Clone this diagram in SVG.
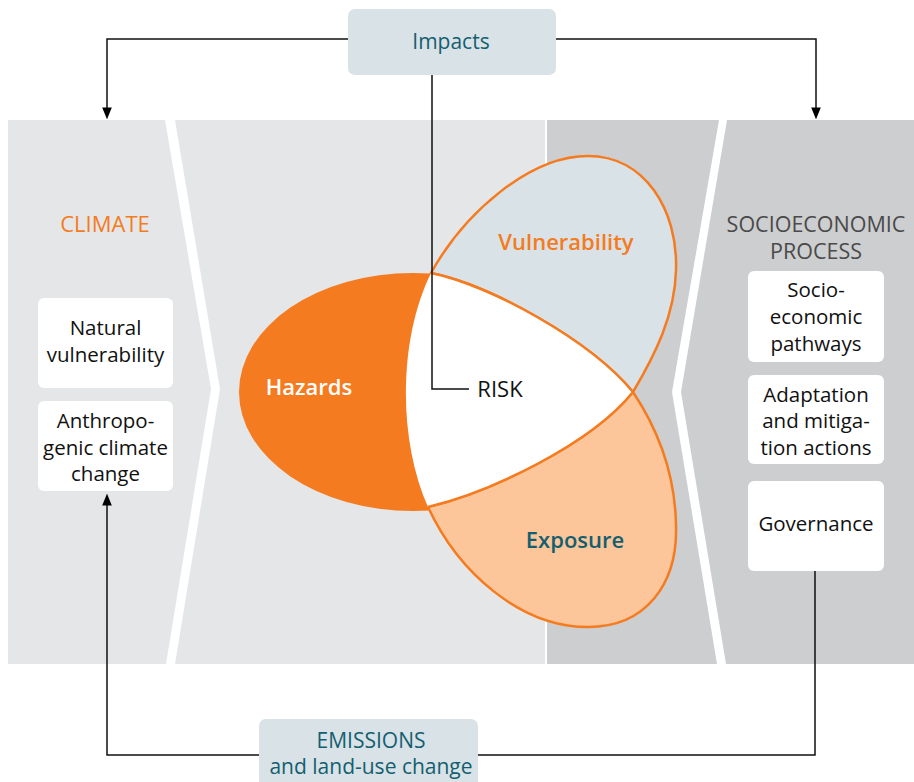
<svg xmlns="http://www.w3.org/2000/svg" width="914" height="782" viewBox="0 0 914 782">
<defs>
<style>
text{font-family:"Open Sans","Noto Sans","Liberation Sans",sans-serif;text-anchor:middle}
.body{font-size:20.5px;fill:#111}
.teal{fill:#135f6f}
.orange{fill:#f47b20}
.box{fill:#ffffff}
.tag{fill:#d9e2e7}
.conn{fill:none;stroke:#111;stroke-width:1.5}
.petal{stroke:#f47b20;stroke-width:2.5}
.lbl{font-size:22px;font-weight:600}
</style>
<marker id="ah" markerWidth="12" markerHeight="15" refX="12" refY="6" orient="auto" markerUnits="userSpaceOnUse" viewBox="0 0 15 12">
<path d="M0,0 L15,6 L0,12 Z" fill="#000"/>
</marker>
</defs>

<g id="background">
<rect x="8" y="120" width="538" height="544" fill="#e5e6e8"/>
<rect x="546" y="120" width="368" height="544" fill="#cdcecf"/>
<rect x="545" y="120" width="2" height="544" fill="#ffffff"/>
<polygon points="165,120 175,120 220,389 175,664 166,664 211,389" fill="#ffffff"/>
<polygon points="719,120 727,120 681,392 726,664 717,664 672,392" fill="#ffffff"/>
</g>

<g id="venn">
<ellipse id="hazards-shape" cx="413" cy="392" rx="174" ry="119" fill="#f47b20"/>
<path id="vulnerability-shape" class="petal" fill="#d9e2e7" d="M431,273 C465,212 530,156 588,156 C645,156 678,210 676,270 C675,315 655,355 633,392 C590,340 490,285 431,273 Z"/>
<path id="exposure-shape" class="petal" fill="#fdc59a" d="M428,507 C458,572 520,627 588,627 C645,627 678,585 676,525 C675,470 655,425 633,392 C590,445 490,492 428,507 Z"/>
<path id="risk-shape" fill="#ffffff" d="M431,273 C490,285 590,340 633,392 C590,445 490,492 428,507 C398,440 398,340 431,273 Z"/>
<path class="petal" fill="none" d="M431,273 C490,285 590,340 633,392 C590,445 490,492 428,507"/>
</g>

<g id="connectors">
<polyline class="conn" points="348,39 107,39 107,117" marker-end="url(#ah)"/>
<polyline class="conn" points="556,39 816,39 816,117" marker-end="url(#ah)"/>
<polyline class="conn" points="432,75 432,389 469,389"/>
<polyline class="conn" points="815,571 815,755 107,755 107,496" marker-end="url(#ah)"/>
</g>

<g id="impacts">
<rect class="tag" x="348" y="9" width="208" height="66" rx="7"/>
<text class="teal" x="451" y="49" font-size="21">Impacts</text>
</g>

<g id="emissions">
<rect class="tag" x="259" y="719" width="219" height="80" rx="7"/>
<text class="teal" x="371" y="748" font-size="21">EMISSIONS</text>
<text class="teal" x="371" y="774" font-size="21">and land-use change</text>
</g>

<g id="climate">
<text class="orange" x="105" y="232" font-size="22">CLIMATE</text>
</g>

<g id="natural-vulnerability">
<rect class="box" x="38" y="298" width="135" height="90" rx="6"/>
<text class="body" x="105.5" y="335">Natural</text>
<text class="body" x="105.5" y="362">vulnerability</text>
</g>

<g id="anthropogenic">
<rect class="box" x="38" y="401" width="135" height="90" rx="6"/>
<text class="body" x="105.5" y="428">Anthropo-</text>
<text class="body" x="105.5" y="455">genic climate</text>
<text class="body" x="105.5" y="481">change</text>
</g>

<g id="socioeconomic">
<text x="816" y="232" font-size="21.5" fill="#4a4a4a">SOCIOECONOMIC</text>
<text x="816" y="259" font-size="21.5" fill="#4a4a4a">PROCESS</text>
</g>

<g id="pathways">
<rect class="box" x="748" y="271" width="136" height="91" rx="6"/>
<text class="body" x="816" y="297">Socio-</text>
<text class="body" x="816" y="324">economic</text>
<text class="body" x="816" y="351">pathways</text>
</g>

<g id="adaptation">
<rect class="box" x="748" y="375" width="136" height="89" rx="6"/>
<text class="body" x="816" y="402">Adaptation</text>
<text class="body" x="816" y="428">and mitiga-</text>
<text class="body" x="816" y="455">tion actions</text>
</g>

<g id="governance">
<rect class="box" x="748" y="481" width="136" height="90" rx="6"/>
<text class="body" x="816" y="531">Governance</text>
</g>

<g id="labels">
<text class="lbl" x="309" y="395" fill="#ffffff">Hazards</text>
<text class="lbl orange" x="566" y="250">Vulnerability</text>
<text class="lbl teal" x="575" y="548">Exposure</text>
<text x="500" y="397" font-size="22" font-weight="500" fill="#111">RISK</text>
</g>
</svg>
